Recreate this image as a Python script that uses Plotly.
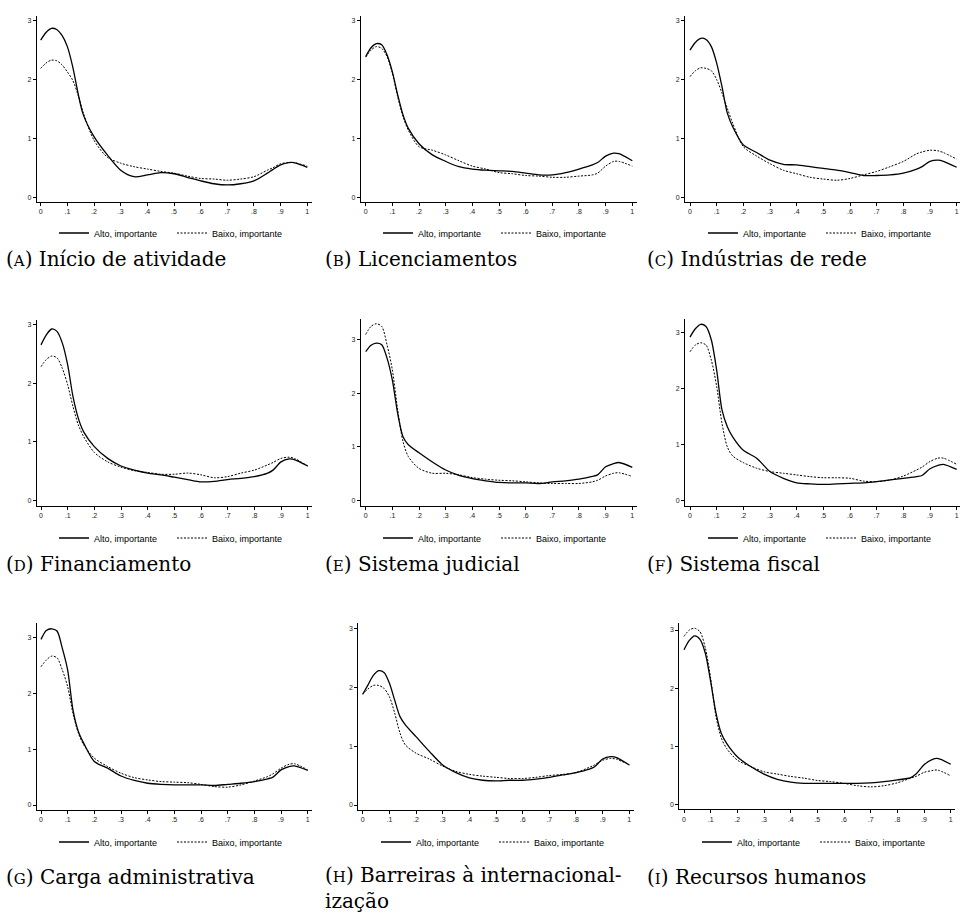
import plotly.graph_objects as go

# ---------------- data ----------------
x_grid = [0, .02, .04, .06, .08, .10, .12, .14, .16, .20, .25, .30, .35, .40, .45,
          .50, .55, .60, .65, .70, .75, .80, .85, .87, .90, .93, .95, 1.0]

alto_A = [2.67, 2.80, 2.87, 2.85, 2.75, 2.56, 2.22, 1.77, 1.40, 1.03, 0.72, 0.46, 0.35, 0.38, 0.42,
          0.40, 0.34, 0.28, 0.23, 0.21, 0.23, 0.28, 0.41, 0.47, 0.55, 0.59, 0.59, 0.51]
baixo_A = [2.19, 2.28, 2.33, 2.32, 2.25, 2.13, 1.99, 1.74, 1.43, 0.97, 0.68, 0.58, 0.52, 0.48, 0.44,
           0.41, 0.36, 0.32, 0.31, 0.29, 0.31, 0.35, 0.46, 0.50, 0.57, 0.59, 0.59, 0.53]

alto_B = [2.39, 2.54, 2.61, 2.59, 2.42, 2.13, 1.74, 1.40, 1.17, 0.91, 0.72, 0.61, 0.52, 0.48, 0.46,
          0.45, 0.44, 0.41, 0.38, 0.38, 0.42, 0.48, 0.55, 0.59, 0.70, 0.75, 0.74, 0.62]
baixo_B = [2.38, 2.50, 2.56, 2.53, 2.39, 2.11, 1.71, 1.37, 1.14, 0.86, 0.80, 0.72, 0.62, 0.53, 0.48,
           0.42, 0.40, 0.37, 0.36, 0.34, 0.34, 0.36, 0.38, 0.41, 0.53, 0.61, 0.61, 0.53]

alto_C = [2.50, 2.63, 2.70, 2.68, 2.56, 2.28, 1.88, 1.43, 1.20, 0.89, 0.76, 0.63, 0.56, 0.55, 0.52,
          0.49, 0.46, 0.42, 0.37, 0.37, 0.38, 0.41, 0.48, 0.52, 0.61, 0.63, 0.61, 0.51]
baixo_C = [2.05, 2.15, 2.20, 2.19, 2.15, 2.00, 1.77, 1.51, 1.26, 0.86, 0.70, 0.57, 0.46, 0.40, 0.34,
           0.31, 0.29, 0.32, 0.38, 0.44, 0.52, 0.61, 0.74, 0.77, 0.80, 0.79, 0.76, 0.65]

alto_D = [2.65, 2.82, 2.92, 2.88, 2.68, 2.31, 1.77, 1.40, 1.17, 0.92, 0.72, 0.59, 0.52, 0.47, 0.44,
          0.40, 0.36, 0.32, 0.33, 0.36, 0.38, 0.41, 0.47, 0.52, 0.66, 0.71, 0.70, 0.59]
baixo_D = [2.28, 2.40, 2.46, 2.43, 2.25, 1.97, 1.60, 1.29, 1.09, 0.82, 0.66, 0.57, 0.51, 0.48, 0.45,
           0.45, 0.47, 0.44, 0.39, 0.41, 0.47, 0.52, 0.61, 0.65, 0.72, 0.74, 0.72, 0.59]

alto_E = [2.77, 2.89, 2.93, 2.90, 2.65, 2.24, 1.62, 1.19, 1.04, 0.89, 0.72, 0.57, 0.47, 0.41, 0.37,
          0.34, 0.33, 0.33, 0.32, 0.35, 0.37, 0.40, 0.45, 0.48, 0.63, 0.69, 0.71, 0.62]
baixo_E = [3.09, 3.24, 3.29, 3.24, 2.90, 2.43, 1.69, 1.10, 0.82, 0.60, 0.51, 0.51, 0.48, 0.43, 0.40,
           0.38, 0.37, 0.35, 0.33, 0.32, 0.32, 0.32, 0.35, 0.38, 0.46, 0.51, 0.52, 0.45]

alto_F = [2.92, 3.07, 3.15, 3.11, 2.87, 2.33, 1.62, 1.32, 1.14, 0.90, 0.76, 0.52, 0.40, 0.32, 0.30,
          0.29, 0.30, 0.31, 0.32, 0.34, 0.37, 0.40, 0.43, 0.45, 0.57, 0.63, 0.65, 0.56]
baixo_F = [2.66, 2.78, 2.82, 2.78, 2.51, 2.04, 1.38, 0.96, 0.80, 0.68, 0.58, 0.52, 0.49, 0.46, 0.43,
           0.41, 0.41, 0.40, 0.35, 0.34, 0.37, 0.44, 0.55, 0.60, 0.70, 0.76, 0.76, 0.65]

alto_G = [2.97, 3.13, 3.16, 3.12, 2.81, 2.42, 1.70, 1.32, 1.11, 0.78, 0.66, 0.52, 0.44, 0.39, 0.37,
          0.36, 0.36, 0.36, 0.35, 0.37, 0.39, 0.42, 0.47, 0.50, 0.63, 0.69, 0.70, 0.62]
baixo_G = [2.48, 2.60, 2.67, 2.64, 2.42, 2.12, 1.64, 1.29, 1.08, 0.84, 0.69, 0.57, 0.49, 0.45, 0.42,
           0.41, 0.40, 0.37, 0.33, 0.32, 0.36, 0.43, 0.51, 0.56, 0.66, 0.73, 0.74, 0.63]

alto_H = [1.88, 2.04, 2.20, 2.28, 2.25, 2.07, 1.78, 1.50, 1.36, 1.16, 0.91, 0.68, 0.55, 0.46, 0.42,
          0.41, 0.42, 0.42, 0.44, 0.47, 0.51, 0.55, 0.61, 0.65, 0.78, 0.82, 0.81, 0.68]
baixo_H = [1.88, 1.97, 2.03, 2.03, 1.98, 1.84, 1.56, 1.22, 1.02, 0.88, 0.78, 0.66, 0.57, 0.52, 0.49,
           0.47, 0.45, 0.45, 0.47, 0.50, 0.52, 0.55, 0.64, 0.68, 0.76, 0.79, 0.78, 0.68]

alto_I = [2.66, 2.82, 2.90, 2.84, 2.60, 2.11, 1.57, 1.22, 1.05, 0.82, 0.65, 0.52, 0.43, 0.38, 0.36,
          0.36, 0.36, 0.36, 0.36, 0.37, 0.39, 0.42, 0.46, 0.52, 0.68, 0.77, 0.79, 0.69]
baixo_I = [2.89, 3.00, 3.03, 2.97, 2.69, 2.17, 1.51, 1.14, 0.96, 0.76, 0.65, 0.56, 0.52, 0.48, 0.45,
           0.41, 0.39, 0.36, 0.32, 0.30, 0.32, 0.37, 0.45, 0.48, 0.55, 0.58, 0.59, 0.49]

panel_letters = ["A", "B", "C", "D", "E", "F", "G", "H", "I"]
panel_titles = ["Início de atividade", "Licenciamentos", "Indústrias de rede",
                "Financiamento", "Sistema judicial", "Sistema fiscal",
                "Carga administrativa", "Barreiras à internacional-<br>ização", "Recursos humanos"]
series_names = ["Alto, importante", "Baixo, importante"]
x_tickvals = [0, .1, .2, .3, .4, .5, .6, .7, .8, .9, 1]
x_ticktext = ["0", ".1", ".2", ".3", ".4", ".5", ".6", ".7", ".8", ".9", "1"]
y_tickvals = [0, 1, 2, 3]
y_ticktext = ["0", "1", "2", "3"]

alto_all = [alto_A, alto_B, alto_C, alto_D, alto_E, alto_F, alto_G, alto_H, alto_I]
baixo_all = [baixo_A, baixo_B, baixo_C, baixo_D, baixo_E, baixo_F, baixo_G, baixo_H, baixo_I]

# ---------------- layout geometry (pixels in a 960x915 page) ----------------
W, H = 960, 915
# (px of x=0, px of x=1, axis left, axis right, px of y=0, px of y=3, axis top, axis bottom)
geom = [
    (40.7, 307.3, 36.7, 311.7, 197.3, 20.7, 16.0, 201.7),
    (365.7, 632.3, 360.7, 636.5, 197.3, 20.7, 16.0, 201.7),
    (690.0, 956.7, 685.0, 960.0, 197.3, 20.7, 16.0, 201.7),
    (41.0, 307.7, 36.7, 312.0, 500.7, 324.3, 320.0, 505.7),
    (365.7, 632.3, 360.7, 636.5, 500.7, 339.3, 319.3, 505.7),
    (690.0, 956.7, 685.0, 960.0, 500.7, 332.7, 319.3, 505.7),
    (41.0, 307.7, 36.7, 312.0, 805.0, 637.7, 623.3, 810.0),
    (362.7, 629.3, 358.3, 633.5, 805.0, 628.3, 623.3, 810.0),
    (684.0, 950.7, 679.3, 955.0, 804.3, 630.0, 623.3, 809.3),
]
legend_pos = [(172, 233), (496, 233), (821, 233),
              (172, 538), (496, 538), (821, 538),
              (172, 842), (494, 842), (815, 842)]
caption_pos = [(4, 259), (323, 259), (645, 259),
               (4, 564), (323, 564), (645, 564),
               (4, 877), (323, 888), (645, 877)]

fig = go.Figure()
layout = dict(width=W, height=H, margin=dict(l=0, r=0, t=0, b=0),
              paper_bgcolor="white", plot_bgcolor="white", annotations=[])

axis_common = dict(showgrid=False, zeroline=False, showline=True, linecolor="black",
                   linewidth=1, ticks="outside", ticklen=3, tickwidth=1, tickcolor="black",
                   tickfont=dict(family="Liberation Sans, Arial", size=7, color="#222"),
                   ticklabeloverflow="allow", fixedrange=True)

for k in range(9):
    n = k + 1
    sfx = "" if n == 1 else str(n)
    x0, x1, left, right, y0, y3, top, bottom = geom[k]
    ppx = x1 - x0
    ppy = (y0 - y3) / 3.0
    xr = [(left - x0) / ppx, (right - x0) / ppx]
    yr = [(y0 - bottom) / ppy, (y0 - top) / ppy]
    leg = "legend" + sfx
    fig.add_trace(go.Scatter(x=x_grid, y=alto_all[k], mode="lines", name=series_names[0],
                             line=dict(color="black", width=1.3, shape="spline", smoothing=0.8),
                             xaxis="x" + sfx, yaxis="y" + sfx, legend=leg, hoverinfo="skip"))
    fig.add_trace(go.Scatter(x=x_grid, y=baixo_all[k], mode="lines", name=series_names[1],
                             line=dict(color="black", width=1.0, dash="2px,1.5px",
                                       shape="spline", smoothing=0.8),
                             xaxis="x" + sfx, yaxis="y" + sfx, legend=leg, hoverinfo="skip"))
    layout["xaxis" + sfx] = dict(axis_common, domain=[left / W, right / W], range=xr,
                                 tickvals=x_tickvals, ticktext=x_ticktext, anchor="y" + sfx)
    layout["yaxis" + sfx] = dict(axis_common, domain=[1 - bottom / H, 1 - top / H], range=yr,
                                 tickvals=y_tickvals, ticktext=y_ticktext, anchor="x" + sfx)
    lx, ly = legend_pos[k]
    layout[leg] = dict(orientation="h", x=lx / W, y=1 - ly / H, xanchor="center",
                       yanchor="middle", bgcolor="rgba(0,0,0,0)", entrywidth=73,
                       font=dict(family="Liberation Sans, Arial", size=9, color="black"),
                       itemwidth=30, itemclick=False, itemdoubleclick=False)
    cx, cy = caption_pos[k]
    layout["annotations"].append(dict(
        xref="paper", yref="paper", x=cx / W, y=1 - cy / H, xanchor="left", yanchor="middle",
        align="left", showarrow=False,
        text='(<span style="font-size:15px">' + panel_letters[k] + '</span>) ' + panel_titles[k],
        font=dict(family="DejaVu Serif", size=20, color="black")))

fig.update_layout(**layout)
fig.write_html("out.html", config={"displayModeBar": False},
               post_script="document.body.style.margin='0';document.body.style.overflow='hidden';")
